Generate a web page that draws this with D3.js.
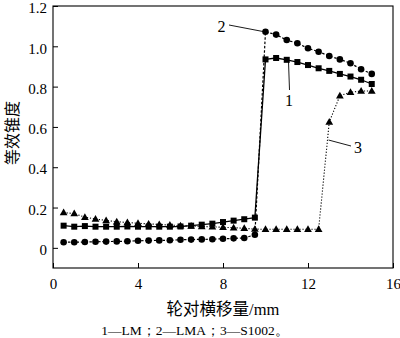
<!DOCTYPE html>
<html>
<head>
<meta charset="utf-8">
<script src="https://cdn.jsdelivr.net/npm/d3@7"></script>
<style>
  html, body { margin: 0; padding: 0; background: #fff; }
  svg { display: block; }
  text { font-family: "Liberation Serif", "Times New Roman", serif; fill: #000; }
  .cjk { font-family: "Noto Sans CJK SC", "Noto Sans CJK JP", sans-serif; }
</style>
</head>
<body>
<svg id="chart" width="400" height="338"></svg>
<script>
// Lateral wheelset displacement (mm)
const xLM = [0.5,1,1.5,2,2.5,3,3.5,4,4.5,5,5.5,6,6.5,7,7.5,8,8.5,9,9.5,10,10.5,11,11.5,12,12.5,13,13.5,14,14.5,15];
// Equivalent conicity, profile LM
const yLM = [0.11,0.105,0.108,0.105,0.105,0.105,0.106,0.105,0.105,0.105,0.105,0.106,0.11,0.115,0.12,0.128,0.135,0.142,0.15,
             0.935,0.942,0.933,0.922,0.907,0.891,0.878,0.863,0.85,0.834,0.813];
// Equivalent conicity, profile LMA
const xLMA = xLM;
const yLMA = [0.028,0.028,0.029,0.03,0.031,0.032,0.033,0.035,0.036,0.037,0.038,0.04,0.041,0.042,0.043,0.045,0.047,0.049,0.065,
              1.072,1.058,1.031,1.015,0.99,0.973,0.952,0.935,0.916,0.886,0.863];
// Equivalent conicity, profile S1002
const xS = xLM;
const yS = [0.175,0.17,0.152,0.143,0.136,0.13,0.126,0.122,0.119,0.116,0.113,0.11,0.108,0.106,0.104,0.102,0.1,0.097,0.093,
            0.092,0.092,0.092,0.092,0.092,0.092,0.624,0.755,0.772,0.778,0.778];

const xTicks = [0,4,8,12,16];
const yTicks = [0,0.2,0.4,0.6,0.8,1.0,1.2];
const yTickLabels = ["0","0.2","0.4","0.6","0.8","1.0","1.2"];

const svg = d3.select("#chart");
const mLeft = 53, mRight = 393, mTop = 6, mBottom = 268;

const x = d3.scaleLinear().domain([0,16]).range([mLeft,mRight]);
const y = d3.scaleLinear().domain([-0.1,1.2]).range([mBottom,mTop]);

// frame
svg.append("rect").attr("x",mLeft).attr("y",mTop).attr("width",mRight-mLeft).attr("height",mBottom-mTop)
  .attr("fill","none").attr("stroke","#000").attr("stroke-width",1.1);

// axes with inward ticks
const xAxis = svg.append("g").attr("transform",`translate(0,${mBottom})`)
  .call(d3.axisBottom(x).tickValues(xTicks).tickSizeInner(-5).tickSizeOuter(0).tickPadding(10).tickFormat(d3.format("d")));
const yAxis = svg.append("g").attr("transform",`translate(${mLeft},0)`)
  .call(d3.axisLeft(y).tickValues(yTicks).tickSizeInner(-5).tickSizeOuter(0).tickPadding(6)
        .tickFormat((d,i)=>yTickLabels[i]));
[xAxis,yAxis].forEach(g=>{
  g.select(".domain").remove();
  g.selectAll(".tick line").attr("stroke","#000").attr("stroke-width",1);
  g.selectAll("text").attr("font-size",15).attr("font-family","Liberation Serif, serif").attr("fill","#000");
});
yAxis.selectAll("text").attr("dy","0.45em");

// series
const line = d3.line().x(d=>x(d[0])).y(d=>y(d[1]));
function series(xs, ys, dash, width){
  const pts = xs.map((v,i)=>[v,ys[i]]);
  svg.append("path").datum(pts).attr("d",line).attr("fill","none")
    .attr("stroke","#000").attr("stroke-width",width).attr("stroke-dasharray",dash);
  return pts;
}
const pLM = series(xLM,yLM,null,1.3);
const pLMA = series(xLMA,yLMA,"2.5,1.8",1.2);
const pS = series(xS,yS,"1.2,1.8",1.1);

svg.append("g").selectAll("rect").data(pLM).join("rect")
  .attr("x",d=>x(d[0])-3).attr("y",d=>y(d[1])-3).attr("width",6).attr("height",6).attr("fill","#000");
svg.append("g").selectAll("circle").data(pLMA).join("circle")
  .attr("cx",d=>x(d[0])).attr("cy",d=>y(d[1])).attr("r",3.3).attr("fill","#000");
const tri = d3.symbol().type(d3.symbolTriangle).size(26);
svg.append("g").selectAll("path").data(pS).join("path")
  .attr("transform",d=>`translate(${x(d[0])},${y(d[1])+0.5})`).attr("d",tri).attr("fill","#000");

// curve labels with leader lines
const lead = [
  {t:"2", tx:221.5, ty:32, x1:229, y1:25, x2:x(10)-1, y2:y(1.072)},
  {t:"1", tx:289, ty:106, x1:289.5, y1:90, x2:288.5, y2:y(0.933)+2},
  {t:"3", tx:358, ty:153, x1:351, y1:146, x2:328.5, y2:140}
];
lead.forEach(a=>{
  svg.append("line").attr("x1",a.x1).attr("y1",a.y1).attr("x2",a.x2).attr("y2",a.y2)
    .attr("stroke","#000").attr("stroke-width",0.9);
  svg.append("text").attr("x",a.tx).attr("y",a.ty).attr("text-anchor","middle")
    .attr("font-size",16).text(a.t);
});

// axis titles
const xt = svg.append("text").attr("x",223).attr("y",314.5).attr("text-anchor","middle").attr("font-size",16.5);
xt.append("tspan").attr("class","cjk").text("轮对横移量");
xt.append("tspan").text("/mm");

svg.append("text").attr("class","cjk").attr("transform","translate(18,133) rotate(-90)")
  .attr("text-anchor","middle").attr("font-size",16).text("等效锥度");

// caption
svg.append("text").attr("x",195).attr("y",334.5).attr("text-anchor","middle").attr("font-size",13.5)
  .text("1—LM；2—LMA；3—S1002。");
</script>
</body>
</html>
